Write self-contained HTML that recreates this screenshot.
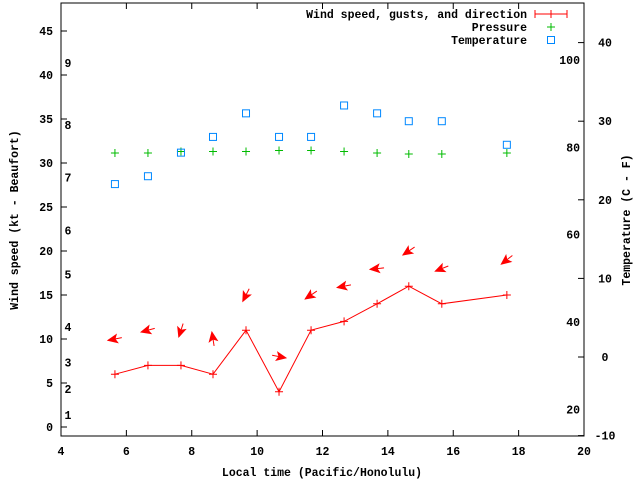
<!DOCTYPE html>
<html><head><meta charset="utf-8"><style>
body{margin:0;background:#fff}
svg text{font-family:"Liberation Mono",monospace;font-size:11.5px;font-weight:bold;fill:#000}
</style></head><body>
<svg id="c" width="640" height="480" viewBox="0 0 640 480"></svg>
<script>
const times=[5.65,6.66,7.67,8.65,9.66,10.67,11.65,12.66,13.67,14.64,15.65,17.64];
const windSpeed=[6,7,7,6,11,4,11,12,14,16,14,15];
const gust=[10,11,11,10,15,8,15,16,18,20,18,19];
const direction=[79,75,18,171,27,281,56,79,84,56,68,52];
const pressure=[31.14,31.14,31.3,31.3,31.3,31.42,31.42,31.3,31.14,31.02,31.02,31.14];
const temperature=[22,23,26,28,31,28,28,32,31,30,30,27];
const xTicks=[4,6,8,10,12,14,16,18,20];
const yTicks=[0,5,10,15,20,25,30,35,40,45];
const y2Ticks=[-10,0,10,20,30,40];
const beaufort=[[1,1],[2,4],[3,7],[4,11],[5,17],[6,22],[7,28],[8,34],[9,41]];
const fahrenheit=[20,40,60,80,100];

const L=61,R=584,T=3,B=436;
const X=v=>L+(v-4)/16*(R-L);
const Y=v=>427-v*8.8;
const Y2=v=>357-v*7.86;
const svg=document.getElementById('c');
const NS='http://www.w3.org/2000/svg';
function mk(tag,attrs,parent){const e=document.createElementNS(NS,tag);for(const k in attrs)e.setAttribute(k,attrs[k]);(parent||svg).appendChild(e);return e;}
function txt(x,y,s,anchor,name){const t=mk('text',{x:x,y:y,'text-anchor':anchor||'start'});t.textContent=s;


return t;}

xTicks.forEach(v=>{const x=X(v);
 const l=mk('path',{d:`M${x} ${B}v-6M${x} ${T}v6`,stroke:'#000'});
 
 
 txt(x,455,v,'middle','x-tick-label');});
yTicks.forEach(v=>{const y=Y(v);
 const l=mk('path',{d:`M${L} ${y}h6`,stroke:'#000'});
 
 
 txt(L-8,y+4,v,'end','y-tick-label');});
y2Ticks.forEach(v=>{const y=Y2(v);
 const l=mk('path',{d:`M${R} ${y}h-6`,stroke:'#000'});
 
 
 txt(R+21,y+4,v,'middle','y2-tick-label');});
beaufort.forEach(b=>txt(68,Y(b[1])+1,b[0],'middle','beaufort-label'));
fahrenheit.forEach(f=>txt(580,Y2((f-32)*5/9)+4,f,'end','fahrenheit-label'));

const frame=mk('rect',{x:L,y:T,width:R-L,height:B-T,fill:'none',stroke:'#000'});



const wl=mk('polyline',{points:times.map((t,i)=>X(t)+','+Y(windSpeed[i])).join(' '),fill:'none',stroke:'#f00'});


function plus(x,y,c,name){const p=mk('path',{d:`M${x-4} ${y}h8M${x} ${y-4}v8`,stroke:c});
 
 }
times.forEach((t,i)=>plus(X(t),Y(windSpeed[i]),'#f00','wind-speed-point'));
times.forEach((t,i)=>{const cx=X(t),cy=Y(gust[i]);const a=direction[i]*Math.PI/180;
 const ux=-Math.sin(a),uy=Math.cos(a);
 const hx=cx+ux*7,hy=cy+uy*7,tx=cx-ux*7,ty=cy-uy*7;
 const px=-uy,py=ux;
 const g=mk('g',{});
 
 
 mk('line',{x1:tx,y1:ty,x2:hx,y2:hy,stroke:'#f00'},g);
 mk('polygon',{points:`${hx},${hy} ${hx-ux*9+px*4},${hy-uy*9+py*4} ${hx-ux*7},${hy-uy*7} ${hx-ux*9-px*4},${hy-uy*9-py*4}`,fill:'#f00',stroke:'#f00'},g);});
times.forEach((t,i)=>plus(X(t),Y(pressure[i]),'#0b0','pressure-point'));
times.forEach((t,i)=>{const r=mk('rect',{x:X(t)-3.5,y:Y2(temperature[i])-3.5,width:7,height:7,fill:'none',stroke:'#08f'});
 
 });

txt(527,18,'Wind speed, gusts, and direction','end','legend-wind');
const lw=mk('path',{d:'M535 14h32M535 10v8M567 10v8M551 10v8',stroke:'#f00'});


txt(527,31,'Pressure','end','legend-pressure');
plus(551,27,'#0b0','legend-pressure-sample');
txt(527,44,'Temperature','end','legend-temperature');
const lt=mk('rect',{x:547.5,y:36.5,width:7,height:7,fill:'none',stroke:'#08f'});



txt(322,476,'Local time (Pacific/Honolulu)','middle','x-axis-title');
const yt=txt(0,0,'Wind speed (kt - Beaufort)','middle','y-axis-title');
yt.setAttribute('transform','translate(18,220) rotate(-90)');
const y2t=txt(0,0,'Temperature (C - F)','middle','y2-axis-title');
y2t.setAttribute('transform','translate(630,220) rotate(-90)');
</script>
</body></html>
